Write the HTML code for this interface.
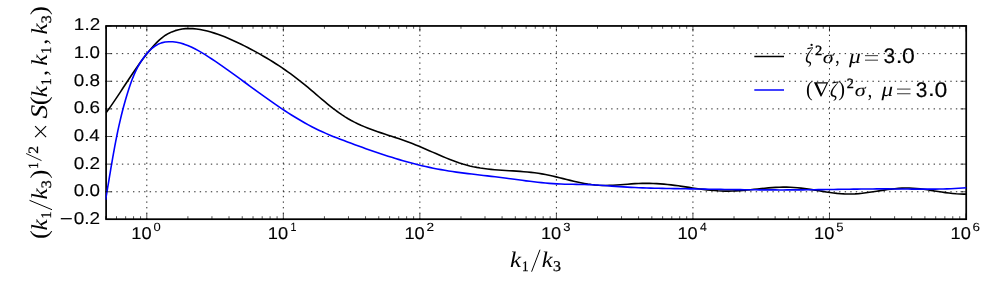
<!DOCTYPE html>
<html><head><meta charset="utf-8"><title>plot</title>
<style>html,body{margin:0;padding:0;background:#fff;}svg{display:block;}text{font-family:"Liberation Sans",sans-serif;fill:#000;}.s{font-family:"Liberation Serif",serif;}.i{font-family:"Liberation Serif",serif;font-style:italic;}</style></head><body>
<svg width="1000" height="300" viewBox="0 0 1000 300">
<rect x="0" y="0" width="1000" height="300" fill="#fff"/>
<g stroke="#000" stroke-width="0.85" stroke-dasharray="1.39 4.17" fill="none">
<line x1="146.80" y1="219.50" x2="146.80" y2="26.00"/>
<line x1="283.33" y1="219.50" x2="283.33" y2="26.00"/>
<line x1="419.87" y1="219.50" x2="419.87" y2="26.00"/>
<line x1="556.40" y1="219.50" x2="556.40" y2="26.00"/>
<line x1="692.93" y1="219.50" x2="692.93" y2="26.00"/>
<line x1="829.47" y1="219.50" x2="829.47" y2="26.00"/>
<line x1="105.20" y1="191.77" x2="966.00" y2="191.77"/>
<line x1="105.20" y1="164.14" x2="966.00" y2="164.14"/>
<line x1="105.20" y1="136.51" x2="966.00" y2="136.51"/>
<line x1="105.20" y1="108.89" x2="966.00" y2="108.89"/>
<line x1="105.20" y1="81.26" x2="966.00" y2="81.26"/>
<line x1="105.20" y1="53.63" x2="966.00" y2="53.63"/>
</g>
<rect x="106.10" y="25.95" width="860.10" height="193.25" fill="none" stroke="#000" stroke-width="1.75"/>
<clipPath id="c"><rect x="105.60" y="26.00" width="860.90" height="193.40"/></clipPath>
<g clip-path="url(#c)" fill="none" stroke-width="1.60" stroke-linejoin="round">
<path d="M105.59 112.43 L107.73 109.48 L109.84 106.52 L111.91 103.53 L113.96 100.54 L115.99 97.53 L118.00 94.51 L120.00 91.49 L121.99 88.46 L123.98 85.43 L125.97 82.40 L127.96 79.38 L129.97 76.36 L131.99 73.35 L134.03 70.36 L136.10 67.37 L138.19 64.41 L140.32 61.46 L142.49 58.54 L144.69 55.64 L146.95 52.77 L149.26 49.93 L151.63 47.12 L154.06 44.38 L156.59 41.74 L159.24 39.25 L162.02 36.94 L164.95 34.87 L168.04 33.06 L171.29 31.53 L174.66 30.29 L178.11 29.33 L181.62 28.66 L185.17 28.28 L188.75 28.16 L192.35 28.28 L195.95 28.61 L199.57 29.14 L203.17 29.84 L206.76 30.70 L210.32 31.68 L213.85 32.77 L217.33 33.94 L220.77 35.19 L224.18 36.50 L227.54 37.88 L230.87 39.32 L234.17 40.81 L237.45 42.34 L240.70 43.92 L243.93 45.53 L247.14 47.17 L250.34 48.84 L253.52 50.55 L256.69 52.28 L259.84 54.05 L262.97 55.84 L266.08 57.67 L269.18 59.54 L272.25 61.44 L275.31 63.37 L278.35 65.34 L281.36 67.34 L284.36 69.39 L287.33 71.47 L290.28 73.58 L293.21 75.74 L296.11 77.94 L299.00 80.18 L301.85 82.46 L304.69 84.77 L307.51 87.12 L310.31 89.49 L313.11 91.88 L315.90 94.26 L318.69 96.65 L321.48 99.02 L324.29 101.37 L327.11 103.69 L329.95 105.97 L332.82 108.20 L335.71 110.38 L338.64 112.49 L341.60 114.53 L344.61 116.49 L347.66 118.36 L350.77 120.13 L353.93 121.80 L357.14 123.37 L360.39 124.86 L363.69 126.27 L367.02 127.62 L370.39 128.91 L373.79 130.15 L377.21 131.35 L380.65 132.52 L384.10 133.67 L387.57 134.81 L391.04 135.94 L394.52 137.08 L398.00 138.24 L401.47 139.42 L404.92 140.63 L408.37 141.89 L411.80 143.19 L415.20 144.55 L418.59 145.95 L421.97 147.38 L425.33 148.83 L428.69 150.30 L432.04 151.78 L435.38 153.24 L438.73 154.70 L442.08 156.13 L445.43 157.52 L448.79 158.88 L452.16 160.18 L455.54 161.42 L458.94 162.59 L462.36 163.68 L465.80 164.67 L469.26 165.57 L472.75 166.37 L476.27 167.06 L479.81 167.66 L483.37 168.17 L486.95 168.62 L490.54 169.00 L494.15 169.33 L497.77 169.62 L501.40 169.88 L505.04 170.11 L508.68 170.34 L512.33 170.56 L515.98 170.80 L519.63 171.05 L523.27 171.33 L526.91 171.65 L530.53 172.02 L534.15 172.45 L537.76 172.95 L541.35 173.53 L544.92 174.20 L548.49 174.93 L552.04 175.71 L555.58 176.54 L559.11 177.39 L562.64 178.26 L566.16 179.14 L569.68 180.00 L573.21 180.84 L576.73 181.64 L580.26 182.39 L583.80 183.08 L587.34 183.69 L590.90 184.21 L594.47 184.62 L598.05 184.92 L601.65 185.09 L605.27 185.14 L608.90 185.07 L612.54 184.92 L616.19 184.71 L619.85 184.44 L623.50 184.15 L627.16 183.86 L630.82 183.57 L634.47 183.32 L638.11 183.12 L641.75 183.00 L645.37 182.95 L648.98 182.99 L652.58 183.09 L656.18 183.27 L659.77 183.50 L663.36 183.80 L666.95 184.15 L670.54 184.56 L674.13 185.00 L677.72 185.48 L681.32 185.99 L684.91 186.51 L688.51 187.05 L692.11 187.58 L695.71 188.09 L699.31 188.59 L702.91 189.06 L706.52 189.50 L710.13 189.88 L713.73 190.21 L717.34 190.47 L720.96 190.65 L724.57 190.76 L728.18 190.76 L731.80 190.68 L735.42 190.52 L739.04 190.30 L742.66 190.02 L746.28 189.69 L749.90 189.34 L753.52 188.97 L757.14 188.59 L760.76 188.22 L764.38 187.87 L768.00 187.54 L771.62 187.26 L775.24 187.02 L778.86 186.86 L782.48 186.77 L786.09 186.77 L789.70 186.87 L793.32 187.08 L796.92 187.38 L800.53 187.78 L804.14 188.24 L807.74 188.76 L811.35 189.31 L814.95 189.89 L818.55 190.48 L822.16 191.06 L825.76 191.62 L829.36 192.14 L832.96 192.61 L836.57 193.02 L840.17 193.34 L843.77 193.57 L847.38 193.68 L850.98 193.67 L854.59 193.52 L858.20 193.26 L861.81 192.91 L865.42 192.47 L869.03 191.97 L872.64 191.44 L876.25 190.87 L879.87 190.30 L883.48 189.75 L887.09 189.22 L890.70 188.74 L894.31 188.33 L897.93 188.01 L901.54 187.78 L905.15 187.68 L908.75 187.71 L912.36 187.88 L915.97 188.15 L919.58 188.52 L923.18 188.97 L926.79 189.47 L930.40 190.02 L934.00 190.59 L937.61 191.16 L941.21 191.72 L944.82 192.25 L948.43 192.73 L952.04 193.14 L955.65 193.47 L959.26 193.70 L962.87 193.81 L966.48 193.78" stroke="#000" transform="translate(0.5,0.35)"/>
<path d="M105.60 199.54 L106.27 195.67 L106.92 191.80 L107.57 187.94 L108.22 184.08 L108.86 180.22 L109.50 176.37 L110.15 172.51 L110.79 168.67 L111.44 164.82 L112.10 160.98 L112.77 157.14 L113.45 153.31 L114.14 149.48 L114.85 145.65 L115.58 141.83 L116.32 138.02 L117.09 134.20 L117.88 130.40 L118.70 126.59 L119.55 122.80 L120.42 119.01 L121.33 115.22 L122.27 111.44 L123.24 107.66 L124.26 103.89 L125.31 100.13 L126.41 96.37 L127.55 92.62 L128.73 88.88 L129.98 85.15 L131.29 81.44 L132.69 77.77 L134.19 74.15 L135.80 70.59 L137.55 67.10 L139.44 63.70 L141.50 60.39 L143.73 57.18 L146.15 54.10 L148.78 51.14 L151.62 48.41 L154.67 45.99 L157.94 44.01 L161.43 42.58 L165.11 41.73 L168.91 41.40 L172.76 41.51 L176.58 41.99 L180.35 42.77 L184.05 43.84 L187.69 45.16 L191.28 46.69 L194.81 48.41 L198.29 50.28 L201.73 52.28 L205.13 54.36 L208.48 56.52 L211.80 58.70 L215.08 60.90 L218.33 63.11 L221.55 65.34 L224.75 67.58 L227.92 69.83 L231.08 72.08 L234.23 74.35 L237.36 76.62 L240.48 78.90 L243.59 81.18 L246.71 83.46 L249.82 85.75 L252.94 88.03 L256.06 90.31 L259.19 92.59 L262.34 94.87 L265.51 97.14 L268.69 99.40 L271.88 101.65 L275.10 103.88 L278.33 106.09 L281.58 108.28 L284.86 110.45 L288.15 112.58 L291.46 114.68 L294.80 116.74 L298.15 118.76 L301.53 120.74 L304.93 122.67 L308.36 124.55 L311.81 126.38 L315.29 128.15 L318.79 129.86 L322.31 131.50 L325.86 133.08 L329.44 134.61 L333.03 136.09 L336.64 137.53 L340.26 138.94 L343.90 140.32 L347.54 141.69 L351.19 143.04 L354.85 144.39 L358.52 145.73 L362.18 147.06 L365.86 148.37 L369.54 149.67 L373.23 150.96 L376.93 152.22 L380.63 153.47 L384.34 154.69 L388.06 155.89 L391.78 157.06 L395.52 158.21 L399.26 159.33 L403.00 160.41 L406.76 161.47 L410.53 162.50 L414.30 163.49 L418.08 164.44 L421.87 165.36 L425.66 166.24 L429.47 167.08 L433.28 167.88 L437.10 168.63 L440.93 169.34 L444.77 170.01 L448.62 170.64 L452.47 171.23 L456.33 171.79 L460.19 172.32 L464.06 172.82 L467.93 173.31 L471.80 173.78 L475.68 174.24 L479.56 174.69 L483.44 175.14 L487.32 175.58 L491.20 176.04 L495.08 176.50 L498.95 176.97 L502.83 177.46 L506.70 177.97 L510.57 178.48 L514.44 179.00 L518.30 179.52 L522.17 180.03 L526.04 180.54 L529.91 181.02 L533.78 181.49 L537.65 181.93 L541.52 182.34 L545.40 182.71 L549.28 183.05 L553.16 183.33 L557.05 183.57 L560.95 183.75 L564.85 183.88 L568.75 183.96 L572.66 184.02 L576.56 184.07 L580.47 184.13 L584.38 184.20 L588.29 184.31 L592.19 184.46 L596.09 184.67 L599.98 184.91 L603.87 185.19 L607.77 185.48 L611.66 185.78 L615.55 186.07 L619.44 186.35 L623.33 186.61 L627.22 186.84 L631.11 187.05 L635.01 187.23 L638.90 187.40 L642.80 187.54 L646.69 187.68 L650.59 187.79 L654.49 187.90 L658.39 187.99 L662.29 188.08 L666.19 188.15 L670.09 188.22 L673.99 188.29 L677.89 188.36 L681.79 188.42 L685.69 188.49 L689.59 188.56 L693.49 188.62 L697.39 188.69 L701.29 188.76 L705.19 188.82 L709.09 188.89 L712.99 188.95 L716.89 189.01 L720.79 189.07 L724.69 189.13 L728.59 189.19 L732.49 189.25 L736.40 189.30 L740.30 189.35 L744.20 189.39 L748.10 189.44 L752.00 189.47 L755.90 189.51 L759.80 189.54 L763.70 189.57 L767.60 189.59 L771.50 189.61 L775.40 189.62 L779.30 189.63 L783.20 189.63 L787.10 189.62 L791.00 189.61 L794.91 189.59 L798.81 189.57 L802.71 189.54 L806.60 189.50 L810.50 189.46 L814.40 189.41 L818.30 189.36 L822.20 189.30 L826.10 189.25 L830.00 189.19 L833.90 189.13 L837.80 189.07 L841.70 189.01 L845.60 188.95 L849.50 188.89 L853.40 188.84 L857.30 188.79 L861.20 188.74 L865.10 188.70 L869.00 188.67 L872.90 188.64 L876.80 188.62 L880.70 188.60 L884.60 188.60 L888.50 188.61 L892.40 188.63 L896.30 188.65 L900.20 188.68 L904.10 188.72 L908.01 188.76 L911.91 188.79 L915.81 188.82 L919.71 188.84 L923.61 188.85 L927.51 188.85 L931.41 188.83 L935.31 188.79 L939.21 188.73 L943.11 188.64 L947.01 188.53 L950.91 188.38 L954.81 188.21 L958.70 187.99 L962.60 187.74 L966.50 187.44" stroke="#0000ff" transform="translate(0,0.3)"/>
</g>
<g stroke="#000" stroke-width="0.69">
<line x1="105.70" y1="219.00" x2="105.70" y2="216.22"/>
<line x1="105.70" y1="26.00" x2="105.70" y2="28.78"/>
<line x1="116.51" y1="219.00" x2="116.51" y2="216.22"/>
<line x1="116.51" y1="26.00" x2="116.51" y2="28.78"/>
<line x1="125.65" y1="219.00" x2="125.65" y2="216.22"/>
<line x1="125.65" y1="26.00" x2="125.65" y2="28.78"/>
<line x1="133.57" y1="219.00" x2="133.57" y2="216.22"/>
<line x1="133.57" y1="26.00" x2="133.57" y2="28.78"/>
<line x1="140.55" y1="219.00" x2="140.55" y2="216.22"/>
<line x1="140.55" y1="26.00" x2="140.55" y2="28.78"/>
<line x1="146.80" y1="219.00" x2="146.80" y2="213.44"/>
<line x1="146.80" y1="26.00" x2="146.80" y2="31.56"/>
<line x1="187.90" y1="219.00" x2="187.90" y2="216.22"/>
<line x1="187.90" y1="26.00" x2="187.90" y2="28.78"/>
<line x1="211.94" y1="219.00" x2="211.94" y2="216.22"/>
<line x1="211.94" y1="26.00" x2="211.94" y2="28.78"/>
<line x1="229.00" y1="219.00" x2="229.00" y2="216.22"/>
<line x1="229.00" y1="26.00" x2="229.00" y2="28.78"/>
<line x1="242.23" y1="219.00" x2="242.23" y2="216.22"/>
<line x1="242.23" y1="26.00" x2="242.23" y2="28.78"/>
<line x1="253.04" y1="219.00" x2="253.04" y2="216.22"/>
<line x1="253.04" y1="26.00" x2="253.04" y2="28.78"/>
<line x1="262.18" y1="219.00" x2="262.18" y2="216.22"/>
<line x1="262.18" y1="26.00" x2="262.18" y2="28.78"/>
<line x1="270.10" y1="219.00" x2="270.10" y2="216.22"/>
<line x1="270.10" y1="26.00" x2="270.10" y2="28.78"/>
<line x1="277.09" y1="219.00" x2="277.09" y2="216.22"/>
<line x1="277.09" y1="26.00" x2="277.09" y2="28.78"/>
<line x1="283.33" y1="219.00" x2="283.33" y2="213.44"/>
<line x1="283.33" y1="26.00" x2="283.33" y2="31.56"/>
<line x1="324.43" y1="219.00" x2="324.43" y2="216.22"/>
<line x1="324.43" y1="26.00" x2="324.43" y2="28.78"/>
<line x1="348.48" y1="219.00" x2="348.48" y2="216.22"/>
<line x1="348.48" y1="26.00" x2="348.48" y2="28.78"/>
<line x1="365.54" y1="219.00" x2="365.54" y2="216.22"/>
<line x1="365.54" y1="26.00" x2="365.54" y2="28.78"/>
<line x1="378.77" y1="219.00" x2="378.77" y2="216.22"/>
<line x1="378.77" y1="26.00" x2="378.77" y2="28.78"/>
<line x1="389.58" y1="219.00" x2="389.58" y2="216.22"/>
<line x1="389.58" y1="26.00" x2="389.58" y2="28.78"/>
<line x1="398.72" y1="219.00" x2="398.72" y2="216.22"/>
<line x1="398.72" y1="26.00" x2="398.72" y2="28.78"/>
<line x1="406.64" y1="219.00" x2="406.64" y2="216.22"/>
<line x1="406.64" y1="26.00" x2="406.64" y2="28.78"/>
<line x1="413.62" y1="219.00" x2="413.62" y2="216.22"/>
<line x1="413.62" y1="26.00" x2="413.62" y2="28.78"/>
<line x1="419.87" y1="219.00" x2="419.87" y2="213.44"/>
<line x1="419.87" y1="26.00" x2="419.87" y2="31.56"/>
<line x1="460.97" y1="219.00" x2="460.97" y2="216.22"/>
<line x1="460.97" y1="26.00" x2="460.97" y2="28.78"/>
<line x1="485.01" y1="219.00" x2="485.01" y2="216.22"/>
<line x1="485.01" y1="26.00" x2="485.01" y2="28.78"/>
<line x1="502.07" y1="219.00" x2="502.07" y2="216.22"/>
<line x1="502.07" y1="26.00" x2="502.07" y2="28.78"/>
<line x1="515.30" y1="219.00" x2="515.30" y2="216.22"/>
<line x1="515.30" y1="26.00" x2="515.30" y2="28.78"/>
<line x1="526.11" y1="219.00" x2="526.11" y2="216.22"/>
<line x1="526.11" y1="26.00" x2="526.11" y2="28.78"/>
<line x1="535.25" y1="219.00" x2="535.25" y2="216.22"/>
<line x1="535.25" y1="26.00" x2="535.25" y2="28.78"/>
<line x1="543.17" y1="219.00" x2="543.17" y2="216.22"/>
<line x1="543.17" y1="26.00" x2="543.17" y2="28.78"/>
<line x1="550.15" y1="219.00" x2="550.15" y2="216.22"/>
<line x1="550.15" y1="26.00" x2="550.15" y2="28.78"/>
<line x1="556.40" y1="219.00" x2="556.40" y2="213.44"/>
<line x1="556.40" y1="26.00" x2="556.40" y2="31.56"/>
<line x1="597.50" y1="219.00" x2="597.50" y2="216.22"/>
<line x1="597.50" y1="26.00" x2="597.50" y2="28.78"/>
<line x1="621.54" y1="219.00" x2="621.54" y2="216.22"/>
<line x1="621.54" y1="26.00" x2="621.54" y2="28.78"/>
<line x1="638.60" y1="219.00" x2="638.60" y2="216.22"/>
<line x1="638.60" y1="26.00" x2="638.60" y2="28.78"/>
<line x1="651.83" y1="219.00" x2="651.83" y2="216.22"/>
<line x1="651.83" y1="26.00" x2="651.83" y2="28.78"/>
<line x1="662.64" y1="219.00" x2="662.64" y2="216.22"/>
<line x1="662.64" y1="26.00" x2="662.64" y2="28.78"/>
<line x1="671.78" y1="219.00" x2="671.78" y2="216.22"/>
<line x1="671.78" y1="26.00" x2="671.78" y2="28.78"/>
<line x1="679.70" y1="219.00" x2="679.70" y2="216.22"/>
<line x1="679.70" y1="26.00" x2="679.70" y2="28.78"/>
<line x1="686.69" y1="219.00" x2="686.69" y2="216.22"/>
<line x1="686.69" y1="26.00" x2="686.69" y2="28.78"/>
<line x1="692.93" y1="219.00" x2="692.93" y2="213.44"/>
<line x1="692.93" y1="26.00" x2="692.93" y2="31.56"/>
<line x1="734.03" y1="219.00" x2="734.03" y2="216.22"/>
<line x1="734.03" y1="26.00" x2="734.03" y2="28.78"/>
<line x1="758.08" y1="219.00" x2="758.08" y2="216.22"/>
<line x1="758.08" y1="26.00" x2="758.08" y2="28.78"/>
<line x1="775.13" y1="219.00" x2="775.13" y2="216.22"/>
<line x1="775.13" y1="26.00" x2="775.13" y2="28.78"/>
<line x1="788.37" y1="219.00" x2="788.37" y2="216.22"/>
<line x1="788.37" y1="26.00" x2="788.37" y2="28.78"/>
<line x1="799.18" y1="219.00" x2="799.18" y2="216.22"/>
<line x1="799.18" y1="26.00" x2="799.18" y2="28.78"/>
<line x1="808.32" y1="219.00" x2="808.32" y2="216.22"/>
<line x1="808.32" y1="26.00" x2="808.32" y2="28.78"/>
<line x1="816.24" y1="219.00" x2="816.24" y2="216.22"/>
<line x1="816.24" y1="26.00" x2="816.24" y2="28.78"/>
<line x1="823.22" y1="219.00" x2="823.22" y2="216.22"/>
<line x1="823.22" y1="26.00" x2="823.22" y2="28.78"/>
<line x1="829.47" y1="219.00" x2="829.47" y2="213.44"/>
<line x1="829.47" y1="26.00" x2="829.47" y2="31.56"/>
<line x1="870.57" y1="219.00" x2="870.57" y2="216.22"/>
<line x1="870.57" y1="26.00" x2="870.57" y2="28.78"/>
<line x1="894.61" y1="219.00" x2="894.61" y2="216.22"/>
<line x1="894.61" y1="26.00" x2="894.61" y2="28.78"/>
<line x1="911.67" y1="219.00" x2="911.67" y2="216.22"/>
<line x1="911.67" y1="26.00" x2="911.67" y2="28.78"/>
<line x1="924.90" y1="219.00" x2="924.90" y2="216.22"/>
<line x1="924.90" y1="26.00" x2="924.90" y2="28.78"/>
<line x1="935.71" y1="219.00" x2="935.71" y2="216.22"/>
<line x1="935.71" y1="26.00" x2="935.71" y2="28.78"/>
<line x1="944.85" y1="219.00" x2="944.85" y2="216.22"/>
<line x1="944.85" y1="26.00" x2="944.85" y2="28.78"/>
<line x1="952.77" y1="219.00" x2="952.77" y2="216.22"/>
<line x1="952.77" y1="26.00" x2="952.77" y2="28.78"/>
<line x1="959.75" y1="219.00" x2="959.75" y2="216.22"/>
<line x1="959.75" y1="26.00" x2="959.75" y2="28.78"/>
<line x1="966.00" y1="219.00" x2="966.00" y2="213.44"/>
<line x1="966.00" y1="26.00" x2="966.00" y2="31.56"/>
<line x1="106.00" y1="219.40" x2="111.56" y2="219.40"/>
<line x1="966.00" y1="219.40" x2="960.44" y2="219.40"/>
<line x1="106.00" y1="191.77" x2="111.56" y2="191.77"/>
<line x1="966.00" y1="191.77" x2="960.44" y2="191.77"/>
<line x1="106.00" y1="164.14" x2="111.56" y2="164.14"/>
<line x1="966.00" y1="164.14" x2="960.44" y2="164.14"/>
<line x1="106.00" y1="136.51" x2="111.56" y2="136.51"/>
<line x1="966.00" y1="136.51" x2="960.44" y2="136.51"/>
<line x1="106.00" y1="108.89" x2="111.56" y2="108.89"/>
<line x1="966.00" y1="108.89" x2="960.44" y2="108.89"/>
<line x1="106.00" y1="81.26" x2="111.56" y2="81.26"/>
<line x1="966.00" y1="81.26" x2="960.44" y2="81.26"/>
<line x1="106.00" y1="53.63" x2="111.56" y2="53.63"/>
<line x1="966.00" y1="53.63" x2="960.44" y2="53.63"/>
<line x1="106.00" y1="26.00" x2="111.56" y2="26.00"/>
<line x1="966.00" y1="26.00" x2="960.44" y2="26.00"/>
</g>
<g id="alltext" opacity="0.999" text-rendering="geometricPrecision">
<text font-size="20" stroke="#000" stroke-width="0.15" transform="translate(73.76,223.80) scale(0.9494,0.8521)">0.2</text>
<line x1="60.8" y1="218.70" x2="71.8" y2="218.70" stroke="#000" stroke-width="1.3"/>
<text font-size="20" stroke="#000" stroke-width="0.15" transform="translate(73.76,196.17) scale(0.9413,0.8521)">0.0</text>
<text font-size="20" stroke="#000" stroke-width="0.15" transform="translate(73.76,168.54) scale(0.9494,0.8521)">0.2</text>
<text font-size="20" stroke="#000" stroke-width="0.15" transform="translate(73.77,140.91) scale(0.9343,0.8521)">0.4</text>
<text font-size="20" stroke="#000" stroke-width="0.15" transform="translate(73.76,113.29) scale(0.9448,0.8521)">0.6</text>
<text font-size="20" stroke="#000" stroke-width="0.15" transform="translate(73.76,85.66) scale(0.9445,0.8521)">0.8</text>
<text font-size="20" stroke="#000" stroke-width="0.15" transform="translate(73.87,58.03) scale(0.9373,0.8521)">1.0</text>
<text font-size="20" stroke="#000" stroke-width="0.15" transform="translate(73.86,30.40) scale(0.9457,0.8521)">1.2</text>
<text font-size="20" stroke="#000" stroke-width="0.15" transform="translate(131.31,239.40) scale(0.9127,0.8521)">10</text>
<text font-size="20" stroke="#000" stroke-width="0.15" transform="translate(153.59,231.40) scale(0.6485,0.5943)">0</text>
<text font-size="20" stroke="#000" stroke-width="0.15" transform="translate(267.84,239.40) scale(0.9127,0.8521)">10</text>
<text font-size="20" stroke="#000" stroke-width="0.15" transform="translate(290.52,231.40) scale(0.5335,0.6032)">1</text>
<text font-size="20" stroke="#000" stroke-width="0.15" transform="translate(404.38,239.40) scale(0.9127,0.8521)">10</text>
<text font-size="20" stroke="#000" stroke-width="0.15" transform="translate(426.48,231.40) scale(0.6805,0.5943)">2</text>
<text font-size="20" stroke="#000" stroke-width="0.15" transform="translate(540.91,239.40) scale(0.9127,0.8521)">10</text>
<text font-size="20" stroke="#000" stroke-width="0.15" transform="translate(563.20,231.40) scale(0.6538,0.5943)">3</text>
<text font-size="20" stroke="#000" stroke-width="0.15" transform="translate(677.44,239.40) scale(0.9127,0.8521)">10</text>
<text font-size="20" stroke="#000" stroke-width="0.15" transform="translate(699.95,231.40) scale(0.6152,0.6032)">4</text>
<text font-size="20" stroke="#000" stroke-width="0.15" transform="translate(813.98,239.40) scale(0.9127,0.8521)">10</text>
<text font-size="20" stroke="#000" stroke-width="0.15" transform="translate(836.24,231.40) scale(0.6538,0.6032)">5</text>
<text font-size="20" stroke="#000" stroke-width="0.15" transform="translate(950.51,239.40) scale(0.9127,0.8521)">10</text>
<text font-size="20" stroke="#000" stroke-width="0.15" transform="translate(972.62,231.40) scale(0.6718,0.5943)">6</text>
<g id="xlabel">
<text class="i" font-size="20" transform="translate(510.08,266.70) scale(1.2451,1.1242)">k</text>
<text class="s" font-size="20" stroke="#000" stroke-width="0.4" transform="translate(522.05,270.70) scale(0.6533,0.7271)">1</text>
<line x1="531.60" y1="271.70" x2="540.00" y2="249.70" stroke="#000" stroke-width="1.00"/>
<text class="i" font-size="20" transform="translate(541.80,266.70) scale(1.2218,1.1242)">k</text>
<text class="s" font-size="20" stroke="#000" stroke-width="0.4" transform="translate(553.04,270.75) scale(0.7989,0.7442)">3</text>
</g>
<g id="ylabel" transform="translate(46.7,238.5) rotate(-90)">
<text class="s" font-size="20" transform="translate(-0.56,0.11) scale(1.3238,1.2187)">(</text>
<text class="i" font-size="20" transform="translate(7.88,0.20) scale(1.2567,1.1386)">k</text>
<text class="s" font-size="20" stroke="#000" stroke-width="0.4" transform="translate(20.00,4.20) scale(0.6817,0.7347)">1</text>
<line x1="28.80" y1="5.30" x2="38.20" y2="-17.20" stroke="#000" stroke-width="1.00"/>
<text class="i" font-size="20" transform="translate(38.88,0.20) scale(1.2567,1.1386)">k</text>
<text class="s" font-size="20" stroke="#000" stroke-width="0.4" transform="translate(50.24,4.06) scale(0.7989,0.7219)">3</text>
<text class="s" font-size="20" transform="translate(60.05,0.11) scale(1.3238,1.2187)">)</text>
<text class="s" font-size="20" stroke="#000" stroke-width="0.4" transform="translate(69.70,-9.00) scale(0.6249,0.7120)">1</text>
<line x1="77.90" y1="-5.20" x2="85.00" y2="-20.60" stroke="#000" stroke-width="0.90"/>
<text class="s" font-size="20" stroke="#000" stroke-width="0.4" transform="translate(84.72,-9.00) scale(0.7733,0.7099)">2</text>
<g stroke="#000" stroke-width="1.15"><line x1="101.3" y1="-0.6" x2="112.3" y2="-11.6"/><line x1="101.3" y1="-11.6" x2="112.3" y2="-0.6"/></g>
<text class="i" font-size="20" transform="translate(119.98,0.07) scale(1.3766,1.1981)">S</text>
<text class="s" font-size="20" transform="translate(133.14,0.11) scale(1.3238,1.2187)">(</text>
<text class="i" font-size="20" transform="translate(141.18,0.20) scale(1.2567,1.1386)">k</text>
<text class="s" font-size="20" stroke="#000" stroke-width="0.4" transform="translate(153.20,4.20) scale(0.6817,0.7347)">1</text>
<text class="s" font-size="20" transform="translate(162.48,0.49) scale(1.2087,1.2070)">,</text>
<text class="i" font-size="20" transform="translate(172.78,0.20) scale(1.2567,1.1386)">k</text>
<text class="s" font-size="20" stroke="#000" stroke-width="0.4" transform="translate(184.80,4.20) scale(0.6817,0.7347)">1</text>
<text class="s" font-size="20" transform="translate(193.68,0.49) scale(1.2087,1.2070)">,</text>
<text class="i" font-size="20" transform="translate(204.08,0.20) scale(1.2567,1.1386)">k</text>
<text class="s" font-size="20" stroke="#000" stroke-width="0.4" transform="translate(215.24,4.06) scale(0.7989,0.7219)">3</text>
<text class="s" font-size="20" transform="translate(223.45,0.11) scale(1.3238,1.2187)">)</text>
</g>
<g id="legend">
<line x1="754.3" y1="56.5" x2="784" y2="56.5" stroke="#000" stroke-width="1.5"/>
<line x1="754.3" y1="90.0" x2="784" y2="90.0" stroke="#0000ff" stroke-width="1.5"/>
<text class="i" font-size="20" transform="translate(805.26,63.16) scale(0.8397,1.1180)">ζ</text>
<circle cx="811.6" cy="44.9" r="1.15" fill="#000"/>
<text class="s" font-size="20" stroke="#000" stroke-width="0.5" transform="translate(815.06,54.70) scale(0.7234,0.7023)">2</text>
<text class="i" font-size="20" transform="translate(822.84,62.83) scale(1.1108,0.8946)">σ</text>
<text class="s" font-size="20" transform="translate(835.34,63.05) scale(0.8729,1.0902)">,</text>
<text class="i" font-size="20" transform="translate(849.02,62.74) scale(1.1709,0.9958)">μ</text>
<g stroke="#000" stroke-opacity="0.66" stroke-width="1.2"><line x1="865" y1="55.6" x2="878" y2="55.6"/><line x1="865" y1="60.2" x2="878" y2="60.2"/></g>
<text font-size="20" stroke="#000" stroke-width="0.15" transform="translate(883.50,63.00) scale(1.0440,1.0598)">3</text>
<text font-size="20" stroke="#000" stroke-width="0.15" transform="translate(895.79,62.90) scale(1.2078,1.0754)">.</text>
<text font-size="20" stroke="#000" stroke-width="0.15" transform="translate(902.10,63.00) scale(1.1506,1.0598)">0</text>
<text class="s" font-size="20" transform="translate(805.91,96.00) scale(1.0123,1.0808)">(</text>
<path d="M813.9 82.2 L828.3 82.2 L821.4 96.5 L820.6 96.5 Z M817.2 83.4 L826.5 83.4 L821.6 93.6 Z" fill="#000" fill-rule="evenodd"/>
<text class="i" font-size="20" transform="translate(829.90,96.72) scale(0.9330,1.1008)">ζ</text>
<text class="s" font-size="20" transform="translate(838.35,96.00) scale(1.0123,1.0808)">)</text>
<text class="s" font-size="20" stroke="#000" stroke-width="0.5" transform="translate(846.78,88.20) scale(0.7109,0.7023)">2</text>
<text class="i" font-size="20" transform="translate(854.84,96.33) scale(1.1108,0.8946)">σ</text>
<text class="s" font-size="20" transform="translate(867.74,96.55) scale(0.8729,1.0902)">,</text>
<text class="i" font-size="20" transform="translate(881.52,96.24) scale(1.1496,0.9958)">μ</text>
<g stroke="#000" stroke-opacity="0.66" stroke-width="1.2"><line x1="897" y1="89.1" x2="910.5" y2="89.1"/><line x1="897" y1="93.7" x2="910.5" y2="93.7"/></g>
<text font-size="20" stroke="#000" stroke-width="0.15" transform="translate(915.80,96.50) scale(1.0440,1.0598)">3</text>
<text font-size="20" stroke="#000" stroke-width="0.15" transform="translate(928.09,96.40) scale(1.2078,1.0754)">.</text>
<text font-size="20" stroke="#000" stroke-width="0.15" transform="translate(934.40,96.50) scale(1.1506,1.0598)">0</text>
</g>
</g>
</svg></body></html>
